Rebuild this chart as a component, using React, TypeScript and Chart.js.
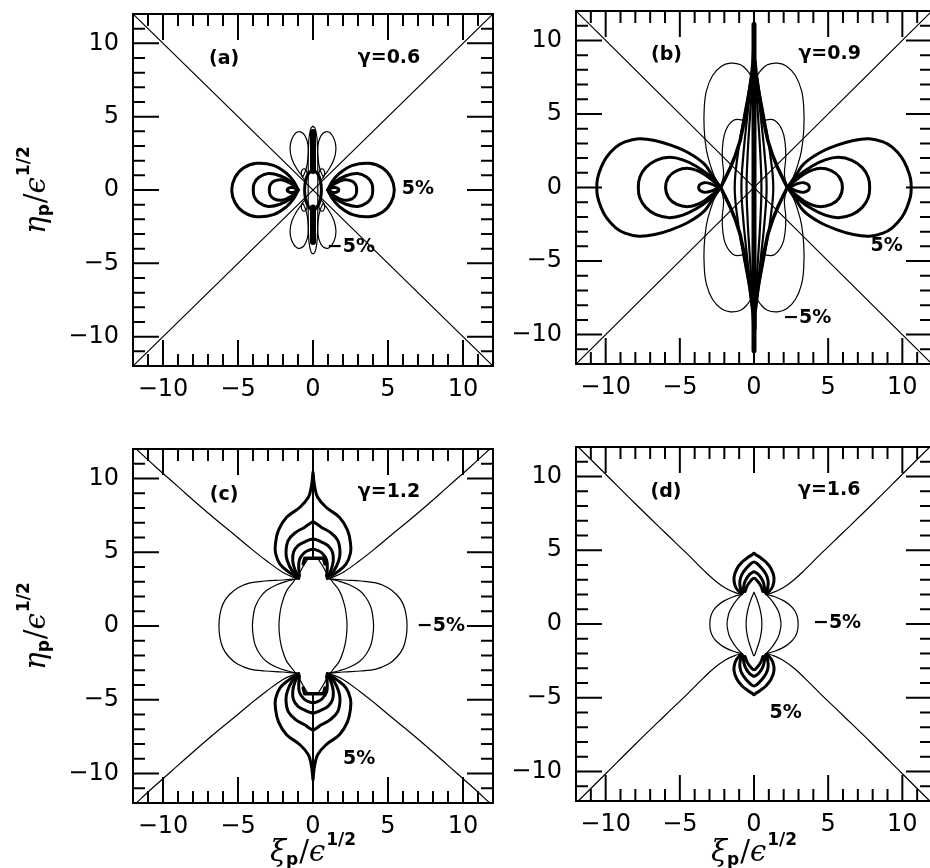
import React, { useEffect, useRef } from "react";
import { Chart, registerables } from "chart.js";

Chart.register(...registerables);

type Pt = [number, number];

// ---------- axes ----------
const AXIS_MIN = -12;
const AXIS_MAX = 12;
const TICK_VALUES = [-10, -5, 0, 5, 10];
const MINOR_TICK_VALUES = [-11, -10, -9, -8, -7, -6, -5, -4, -3, -2, -1, 0, 1, 2, 3, 4, 5, 6, 7, 8, 9, 10, 11];

// ---------- panel texts ----------
const PANEL_TAGS = ["(a)", "(b)", "(c)", "(d)"];
const GAMMA_VALUES = [0.6, 0.9, 1.2, 1.6];
const LEVEL_POS = "5%";
const LEVEL_NEG = "\u22125%";

// ---------- (a) gamma = 0.6 ----------
const A_DIAGONALS: Pt[][] = [
  [[-12, 12], [12, -12]],
  [[-12, -12], [12, 12]],
];
// upper halves of the left 5% lobes, pinch -> far end
const A_SIDE_LOBES: Pt[][] = [
  [[-0.98, 0], [-1.3, 0.6], [-1.76, 1.13], [-2.64, 1.68], [-3.76, 1.82], [-4.64, 1.5], [-5.2, 0.85], [-5.42, 0]],
  [[-0.98, 0], [-1.45, 0.55], [-2.2, 0.97], [-2.98, 1.12], [-3.6, 0.87], [-3.92, 0.45], [-3.98, 0]],
  [[-1.0, 0], [-1.45, 0.42], [-2.1, 0.7], [-2.6, 0.6], [-2.85, 0.35], [-2.91, 0]],
  [[-1.02, 0], [-1.25, 0.14], [-1.5, 0.17], [-1.68, 0.09], [-1.72, 0]],
];
// -5% lobes, upper-left quadrant (closed)
const A_THIN_LOBE: Pt[] = [
  [-0.68, 0.9], [-1.05, 1.4], [-1.4, 2.1], [-1.53, 2.8], [-1.42, 3.45], [-1.05, 3.95], [-0.65, 3.85],
  [-0.38, 3.3], [-0.31, 2.6], [-0.38, 1.8], [-0.52, 1.25], [-0.68, 0.9],
];
const A_THIN_SMALL: Pt[] = [
  [-0.42, 0.65], [-0.65, 0.8], [-0.78, 1.1], [-0.68, 1.42], [-0.47, 1.38], [-0.38, 1.0], [-0.42, 0.65],
];
// central pieces, quarter curves from the top down to the x axis
const A_CORE_THIN: Pt[] = [[0, 4.35], [-0.14, 4.2], [-0.26, 3.6], [-0.31, 2.6], [-0.32, 1.4], [-0.32, 0]];
const A_CORE_LENS: Pt[] = [[0, 1.38], [-0.28, 1.15], [-0.48, 0.7], [-0.56, 0]];
const A_BARS: Pt[][] = [
  [[0, 1.3], [0, 3.95]],
  [[0, -1.2], [0, -3.55]],
];

// ---------- (b) gamma = 0.9 ----------
const B_DIAGONALS: Pt[][] = [
  [[-12, 12], [12, -12]],
  [[-12, -12], [12, 12]],
];
const B_SIDE_LOBES: Pt[][] = [
  [[-2.25, 0], [-2.8, 0.8], [-3.36, 1.61], [-4.4, 2.35], [-5.56, 2.86], [-6.7, 3.2], [-7.77, 3.31], [-8.7, 3.1], [-9.32, 2.74], [-9.95, 2.05], [-10.3, 1.38], [-10.55, 0.6], [-10.6, 0]],
  [[-2.25, 0], [-3.0, 0.8], [-3.9, 1.45], [-4.8, 1.88], [-5.7, 2.05], [-6.6, 1.85], [-7.3, 1.35], [-7.7, 0.7], [-7.8, 0]],
  [[-2.25, 0], [-2.9, 0.55], [-3.6, 1.05], [-4.4, 1.3], [-5.2, 1.15], [-5.75, 0.7], [-5.96, 0]],
  [[-2.4, 0], [-2.9, 0.25], [-3.35, 0.33], [-3.65, 0.2], [-3.73, 0]],
];
const B_DIAMOND: Pt[] = [
  [0, 9.6], [-0.06, 8.6], [-0.15, 7.7], [-0.3, 6.6], [-0.48, 5.46], [-0.7, 4.3], [-0.93, 3.2],
  [-1.25, 2.2], [-1.59, 1.36], [-1.95, 0.6], [-2.25, 0],
];
const B_LENSES: Pt[][] = [
  [[0, 8.6], [-0.35, 6.6], [-0.75, 4.4], [-1.1, 2.2], [-1.3, 0]],
  [[0, 8.4], [-0.25, 6.6], [-0.5, 4.4], [-0.72, 2.2], [-0.85, 0]],
  [[0, 8.2], [-0.15, 6.6], [-0.3, 4.4], [-0.43, 2.2], [-0.5, 0]],
];
const B_BAR: Pt[] = [[0, -11.1], [0, 11.1]];
const B_THIN_OUTER: Pt[] = [
  [-2.25, 0], [-2.6, 0.6], [-2.9, 1.38], [-3.2, 2.5], [-3.36, 4.0], [-3.35, 5.5], [-3.2, 6.6], [-2.8, 7.6],
  [-2.2, 8.25], [-1.6, 8.45], [-0.9, 8.35], [-0.45, 7.95], [-0.15, 7.5],
];
const B_THIN_INNER: Pt[] = [
  [-2.2, 0.15], [-2.05, 0.9], [-2.14, 2.0], [-2.1, 3.0], [-1.9, 3.9], [-1.4, 4.55], [-0.85, 4.6], [-0.55, 4.35],
];

// ---------- (c) gamma = 1.2 ----------
const C_SEPARATRIX: Pt[] = [
  [-12, 12.2], [-10.5, 10.8], [-9, 9.45], [-7.5, 8.1], [-6.4, 7.15], [-5.3, 6.24], [-4.2, 5.3],
  [-3.1, 4.42], [-2, 3.63], [-1.4, 3.35], [-0.95, 3.22],
];
// -5% contours, upper-left part from the pinch down to the x axis
const C_THIN: Pt[][] = [
  [[-0.95, 3.22], [-2.0, 3.12], [-3.2, 3.05], [-4.2, 2.92], [-5.0, 2.6], [-5.6, 2.1], [-6.0, 1.5], [-6.2, 0.8], [-6.27, 0]],
  [[-0.95, 3.22], [-1.7, 3.05], [-2.42, 2.8], [-3.1, 2.4], [-3.53, 1.93], [-3.85, 1.3], [-3.98, 0.7], [-4.04, 0]],
  [[-0.4, 4.45], [-0.65, 4.05], [-0.9, 3.6], [-1.3, 3.0], [-1.76, 2.38], [-2.05, 1.6], [-2.2, 0.9], [-2.27, 0]],
];
// 5% contours, left half from the pinch up to the tip
const C_FLAMES: Pt[][] = [
  [[-0.95, 3.22], [-1.6, 3.65], [-2.2, 4.2], [-2.5, 4.95], [-2.5, 5.6], [-2.3, 6.5], [-1.76, 7.37], [-0.87, 8.05], [-0.31, 8.73], [-0.12, 9.4], [-0.04, 10.0], [0, 10.45]],
  [[-0.95, 3.25], [-1.4, 3.75], [-1.71, 4.42], [-1.8, 5.0], [-1.65, 5.8], [-1.15, 6.35], [-0.55, 6.7], [-0.2, 6.95], [0, 7.05]],
  [[-0.95, 3.3], [-1.2, 3.8], [-1.35, 4.4], [-1.3, 5.0], [-1.0, 5.45], [-0.55, 5.7], [-0.2, 5.85], [0, 5.9]],
  [[-0.9, 3.4], [-0.95, 3.9], [-0.9, 4.5], [-0.6, 4.95], [-0.25, 5.15], [0, 5.2]],
];
const C_SPINE: Pt[] = [[0, 4.6], [0, 10.4]];
const C_CAP: Pt[] = [[-0.65, 4.2], [-0.55, 4.6], [0.7, 4.6], [0.8, 4.2]];

// ---------- (d) gamma = 1.6 ----------
const D_SEPARATRIX: Pt[] = [
  [-12, 12.15], [-10, 10.15], [-8, 8.15], [-6, 6.2], [-4.5, 4.75], [-3.4, 3.65], [-2.6, 2.92],
  [-1.9, 2.42], [-1.3, 2.14], [-0.82, 2.01],
];
const D_THIN: Pt[][] = [
  [[-0.82, 2.01], [-1.4, 1.85], [-2.05, 1.55], [-2.5, 1.2], [-2.75, 0.9], [-2.92, 0.5], [-2.98, 0]],
  [[-0.82, 2.01], [-1.1, 1.7], [-1.38, 1.33], [-1.65, 0.85], [-1.76, 0.45], [-1.82, 0]],
];
const D_LENS: Pt[] = [[0, 2.15], [-0.15, 1.8], [-0.38, 1.1], [-0.5, 0.5], [-0.53, 0]];
const D_FLAMES: Pt[][] = [
  [[-0.82, 2.05], [-1.1, 2.3], [-1.27, 2.58], [-1.35, 3.15], [-1.15, 3.75], [-0.8, 4.2], [-0.4, 4.52], [-0.12, 4.7], [0, 4.8]],
  [[-0.8, 2.1], [-0.93, 2.5], [-0.95, 2.92], [-0.82, 3.35], [-0.5, 3.8], [-0.2, 4.1], [0, 4.2]],
  [[-0.75, 2.15], [-0.7, 2.5], [-0.6, 2.9], [-0.35, 3.3], [-0.1, 3.5], [0, 3.55]],
  [[-0.6, 2.2], [-0.45, 2.6], [-0.2, 2.95], [0, 3.1]],
];

// ---------- helpers to assemble symmetric curves ----------
const mirX = (a: Pt[]): Pt[] => a.map(([x, y]) => [-x, y] as Pt);
const mirY = (a: Pt[]): Pt[] => a.map(([x, y]) => [x, -y] as Pt);
const rev = (a: Pt[]): Pt[] => a.slice().reverse();
const closeBelow = (q: Pt[]): Pt[] => q.concat(rev(mirY(q)).slice(1));
const closeRight = (q: Pt[]): Pt[] => q.concat(rev(mirX(q)).slice(1));
const fourFold = (q: Pt[]): Pt[] => closeRight(closeBelow(q));
const pairX = (q: Pt[]): Pt[][] => [q, mirX(q)];
const pairY = (q: Pt[]): Pt[][] => [q, mirY(q)];
const quad = (q: Pt[]): Pt[][] => [q, mirX(q), mirY(q), mirX(mirY(q))];

interface Stroke {
  pts: Pt[];
  w: number;
  tension?: number;
  cap?: "butt" | "round" | "square";
}

const THIN = 1.2;
const THICK = 3;

const strokes = (list: Pt[][], w: number, tension = 0.4, cap: Stroke["cap"] = "round"): Stroke[] =>
  list.map((pts) => ({ pts, w, tension, cap }));

const STROKES_A: Stroke[] = [
  ...strokes(A_DIAGONALS, THIN, 0),
  ...strokes(A_SIDE_LOBES.flatMap((q) => pairX(closeBelow(q))), THICK),
  ...strokes(quad(A_THIN_LOBE), THIN),
  ...strokes(quad(A_THIN_SMALL), THIN),
  ...strokes([fourFold(A_CORE_THIN)], THIN),
  ...strokes([fourFold(A_CORE_LENS)], THICK),
  ...strokes(A_BARS, 6, 0, "round"),
];

const STROKES_B: Stroke[] = [
  ...strokes(B_DIAGONALS, THIN, 0),
  ...strokes(B_SIDE_LOBES.flatMap((q) => pairX(closeBelow(q))), THICK),
  ...strokes(quad(B_THIN_OUTER), THIN),
  ...strokes(quad(B_THIN_INNER), THIN),
  ...strokes(B_LENSES.map((q) => fourFold(q)), 2.2),
  ...strokes([fourFold(B_DIAMOND)], 3.5, 0),
  ...strokes([B_BAR], 5, 0),
];

const STROKES_C: Stroke[] = [
  ...strokes(quad(C_SEPARATRIX), THIN),
  ...strokes(C_THIN.flatMap((q) => pairX(closeBelow(q))), THIN),
  ...strokes(C_FLAMES.flatMap((q) => pairY(closeRight(q))), THICK),
  ...strokes(pairY(C_SPINE), 2, 0),
  ...strokes(pairY(C_CAP), 3.5, 0),
];

const STROKES_D: Stroke[] = [
  ...strokes(quad(D_SEPARATRIX), THIN),
  ...strokes(D_THIN.flatMap((q) => pairX(closeBelow(q))), THIN),
  ...strokes([fourFold(D_LENS)], THIN),
  ...strokes(D_FLAMES.flatMap((q) => pairY(closeRight(q))), THICK),
];

// ---------- layout ----------
const CANVAS_W = 940;
const CANVAS_H = 868;
const Y_AXIS_W = 80;
const X_AXIS_H = 40;
const MAJOR_LEN = 26;
const MINOR_LEN = 12;
const TICK_FONT = '"DejaVu Sans", sans-serif';
const NOTE_FONT = 'bold 19px "DejaVu Sans", sans-serif';

interface Note { text: string; x: number; y: number }
interface PanelSpec {
  id: string;
  rect: { left: number; top: number; right: number; bottom: number };
  strokes: Stroke[];
  notes: Note[];
  yTitle: boolean;
  xTitle: boolean;
}

const gammaText = (g: number) => `\u03b3=${g.toFixed(1)}`;

const PANELS: PanelSpec[] = [
  {
    id: "a",
    rect: { left: 133, top: 14, right: 493, bottom: 366 },
    strokes: STROKES_A,
    notes: [
      { text: PANEL_TAGS[0], x: -5.93, y: 8.9 },
      { text: gammaText(GAMMA_VALUES[0]), x: 5.07, y: 8.98 },
      { text: LEVEL_POS, x: 7.0, y: 0.07 },
      { text: LEVEL_NEG, x: 2.53, y: -3.88 },
    ],
    yTitle: true,
    xTitle: false,
  },
  {
    id: "b",
    rect: { left: 576, top: 11, right: 932, bottom: 364 },
    strokes: STROKES_B,
    notes: [
      { text: PANEL_TAGS[1], x: -5.9, y: 8.98 },
      { text: gammaText(GAMMA_VALUES[1]), x: 5.1, y: 9.1 },
      { text: LEVEL_POS, x: 8.94, y: -3.95 },
      { text: LEVEL_NEG, x: 3.58, y: -8.9 },
    ],
    yTitle: false,
    xTitle: false,
  },
  {
    id: "c",
    rect: { left: 133, top: 449, right: 493, bottom: 803 },
    strokes: STROKES_C,
    notes: [
      { text: PANEL_TAGS[2], x: -5.93, y: 8.9 },
      { text: gammaText(GAMMA_VALUES[2]), x: 5.07, y: 9.05 },
      { text: LEVEL_NEG, x: 8.53, y: 0 },
      { text: LEVEL_POS, x: 3.07, y: -9.05 },
    ],
    yTitle: true,
    xTitle: true,
  },
  {
    id: "d",
    rect: { left: 576, top: 447, right: 932, bottom: 801 },
    strokes: STROKES_D,
    notes: [
      { text: PANEL_TAGS[3], x: -5.93, y: 8.95 },
      { text: gammaText(GAMMA_VALUES[3]), x: 5.07, y: 9.09 },
      { text: LEVEL_NEG, x: 5.6, y: 0.05 },
      { text: LEVEL_POS, x: 2.13, y: -6.05 },
    ],
    yTitle: false,
    xTitle: true,
  },
];

// axis titles, drawn piece by piece for the sub/superscripts
interface MathPart { text: string; font: string; dy: number; gap?: number }
const SERIF = '"DejaVu Serif", serif';
const Y_TITLE: MathPart[] = [
  { text: "\u03b7", font: `italic 29px ${SERIF}`, dy: 0 },
  { text: "p", font: `bold 17px ${TICK_FONT}`, dy: 4, gap: 1 },
  { text: "/", font: `29px ${SERIF}`, dy: 0 },
  { text: "\u03f5", font: `italic 29px ${SERIF}`, dy: 0, gap: 1 },
  { text: "1/2", font: `bold 17px ${TICK_FONT}`, dy: -16 },
];
const X_TITLE: MathPart[] = [
  { text: "\u03be", font: `italic 29px ${SERIF}`, dy: 0 },
  { text: "p", font: `bold 17px ${TICK_FONT}`, dy: 4, gap: 1 },
  { text: "/", font: `29px ${SERIF}`, dy: 0 },
  { text: "\u03f5", font: `italic 29px ${SERIF}`, dy: 0, gap: 1 },
  { text: "1/2", font: `bold 17px ${TICK_FONT}`, dy: -16 },
];

function drawMath(ctx: CanvasRenderingContext2D, parts: MathPart[], cx: number, cy: number, rotate: boolean) {
  ctx.save();
  ctx.translate(cx, cy);
  if (rotate) ctx.rotate(-Math.PI / 2);
  ctx.fillStyle = "#000";
  ctx.textAlign = "left";
  ctx.textBaseline = "alphabetic";
  const widths = parts.map((p) => {
    ctx.font = p.font;
    return ctx.measureText(p.text).width;
  });
  const total = parts.reduce((s, p, i) => s + widths[i] + (p.gap || 0), 0);
  let x = -total / 2;
  parts.forEach((p, i) => {
    ctx.font = p.font;
    ctx.fillText(p.text, x, p.dy);
    x += widths[i] + (p.gap || 0);
  });
  ctx.restore();
}

const fmtTick = (v: number) => (v < 0 ? "\u2212" + Math.abs(v) : String(v));

function makeConfig(spec: PanelSpec): any {
  const r = spec.rect;
  const framePlugin = {
    id: "frame_" + spec.id,
    afterDatasetsDraw(chart: any) {
      const { ctx, chartArea } = chart;
      const { left, top, right, bottom } = chartArea;
      const xs = chart.scales.x;
      const ys = chart.scales.y;
      ctx.save();
      ctx.strokeStyle = "#000";
      ctx.lineWidth = 2;
      ctx.lineCap = "butt";
      ctx.strokeRect(left, top, right - left, bottom - top);
      ctx.beginPath();
      MINOR_TICK_VALUES.forEach((v) => {
        const len = v % 5 === 0 ? MAJOR_LEN : MINOR_LEN;
        const px = xs.getPixelForValue(v);
        ctx.moveTo(px, top);
        ctx.lineTo(px, top + len);
        ctx.moveTo(px, bottom);
        ctx.lineTo(px, bottom - len);
        const py = ys.getPixelForValue(v);
        ctx.moveTo(left, py);
        ctx.lineTo(left + len, py);
        ctx.moveTo(right, py);
        ctx.lineTo(right - len, py);
      });
      ctx.stroke();

      ctx.fillStyle = "#000";
      ctx.font = NOTE_FONT;
      ctx.textAlign = "center";
      ctx.textBaseline = "middle";
      spec.notes.forEach((n) => {
        ctx.fillText(n.text, xs.getPixelForValue(n.x), ys.getPixelForValue(n.y));
      });
      ctx.restore();

      if (spec.yTitle) drawMath(ctx, Y_TITLE, 45, (top + bottom) / 2, true);
      if (spec.xTitle) drawMath(ctx, X_TITLE, (left + right) / 2, 861, false);
    },
  };

  const axisCommon = {
    type: "linear",
    min: AXIS_MIN,
    max: AXIS_MAX,
    grid: { display: false, drawTicks: false },
    border: { display: false },
    afterBuildTicks: (s: any) => {
      s.ticks = TICK_VALUES.map((v) => ({ value: v }));
    },
  };

  return {
    type: "scatter",
    data: {
      datasets: spec.strokes.map((s) => ({
        data: s.pts.map(([x, y]) => ({ x, y })),
        showLine: true,
        borderColor: "#000",
        borderWidth: s.w,
        tension: s.tension ?? 0.4,
        borderCapStyle: s.cap || "round",
        borderJoinStyle: "round",
        pointRadius: 0,
        pointHoverRadius: 0,
        fill: false,
      })),
    },
    options: {
      responsive: false,
      animation: false,
      events: [],
      layout: {
        padding: {
          left: r.left - Y_AXIS_W,
          top: r.top,
          right: CANVAS_W - r.right,
          bottom: CANVAS_H - r.bottom - X_AXIS_H,
        },
      },
      plugins: { legend: { display: false }, tooltip: { enabled: false } },
      scales: {
        x: {
          ...axisCommon,
          position: "bottom",
          ticks: {
            color: "#000",
            font: { family: TICK_FONT, size: 24 },
            padding: 9,
            maxRotation: 0,
            autoSkip: false,
            callback: (v: number) => fmtTick(v),
          },
          afterFit: (s: any) => {
            s.height = X_AXIS_H;
            s.paddingLeft = 0;
            s.paddingRight = 0;
          },
        },
        y: {
          ...axisCommon,
          position: "left",
          ticks: {
            color: "#000",
            font: { family: TICK_FONT, size: 24 },
            padding: 14,
            autoSkip: false,
            callback: (v: number) => fmtTick(v),
          },
          afterFit: (s: any) => {
            s.width = Y_AXIS_W;
            s.paddingTop = 0;
            s.paddingBottom = 0;
          },
        },
      },
    },
    plugins: [framePlugin],
  };
}

function Panel({ spec }: { spec: PanelSpec }) {
  const ref = useRef<HTMLCanvasElement>(null);
  useEffect(() => {
    if (!ref.current) return;
    const chart = new Chart(ref.current, makeConfig(spec));
    return () => chart.destroy();
  }, [spec]);
  return (
    <canvas
      ref={ref}
      width={CANVAS_W}
      height={CANVAS_H}
      style={{ position: "absolute", left: 0, top: 0 }}
    />
  );
}

export default function App() {
  return (
    <div
      style={{
        position: "absolute",
        left: 0,
        top: 0,
        width: 930,
        height: 868,
        overflow: "hidden",
        background: "#fff",
      }}
    >
      {PANELS.map((p) => (
        <Panel key={p.id} spec={p} />
      ))}
    </div>
  );
}
